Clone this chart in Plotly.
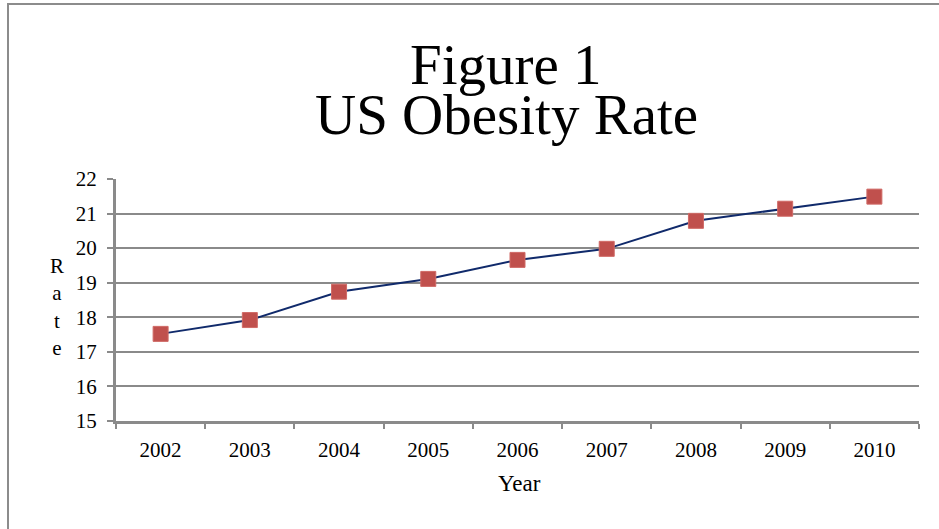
import plotly.graph_objects as go

years = ["2002", "2003", "2004", "2005", "2006", "2007", "2008", "2009", "2010"]
rate = [17.52, 17.92, 18.74, 19.11, 19.66, 19.98, 20.79, 21.14, 21.49]
y_ticks = [15, 16, 17, 18, 19, 20, 21, 22]

SERIF = "Liberation Serif, Times New Roman, serif"
GRID = "#8a8a8a"

fig = go.Figure()
fig.add_trace(go.Scatter(
    x=years, y=rate, mode="lines+markers",
    line=dict(color="#102a6b", width=2),
    marker=dict(symbol="square", size=15, color="#c0504d",
                line=dict(color="#d06a66", width=1)),
    showlegend=False,
))

fig.update_layout(
    width=939, height=529,
    margin=dict(l=116, r=20, t=179, b=108, pad=0),
    paper_bgcolor="white", plot_bgcolor="white",
    font=dict(family=SERIF, size=21, color="black"),
    xaxis=dict(
        type="category", tickson="boundaries", showgrid=False,
        showline=True, linecolor=GRID, linewidth=3,
        ticks="outside", ticklen=5, tickwidth=2, tickcolor=GRID,
        ticklabelstandoff=8,
        tickfont=dict(family=SERIF, size=21),
        range=[-0.5, 8.5],
    ),
    yaxis=dict(
        range=[15, 22], tickvals=y_ticks, showgrid=True, gridcolor=GRID,
        gridwidth=2, zeroline=False, showline=True, linecolor=GRID,
        linewidth=3, ticks="outside", ticklen=6, tickwidth=2, tickcolor=GRID,
        ticklabelstandoff=6,
        tickfont=dict(family=SERIF, size=21),
    ),
    shapes=[dict(type="rect", xref="paper", yref="paper",
                 x0=-0.1345, x1=1.04, y0=-0.48, y1=1.723,
                 line=dict(color="#8c8c8c", width=2), fillcolor="rgba(0,0,0,0)",
                 layer="below")],
    annotations=[
        dict(text="Figure 1", xref="paper", yref="paper", x=0.486, y=1.472,
             xanchor="center", yanchor="middle", showarrow=False,
             font=dict(family=SERIF, size=57, color="black")),
        dict(text="US Obesity Rate", xref="paper", yref="paper", x=0.486, y=1.265,
             xanchor="center", yanchor="middle", showarrow=False,
             font=dict(family=SERIF, size=57, color="black")),
        dict(text="R<br>a<br>t<br>e", xref="paper", yref="paper", x=-0.073, y=0.47,
             xanchor="center", yanchor="middle", showarrow=False,
             font=dict(family=SERIF, size=21, color="black")),
        dict(text="Year", xref="paper", yref="paper", x=0.503, y=-0.26,
             xanchor="center", yanchor="middle", showarrow=False,
             font=dict(family=SERIF, size=23, color="black")),
    ],
)

fig.write_html("out.html")
